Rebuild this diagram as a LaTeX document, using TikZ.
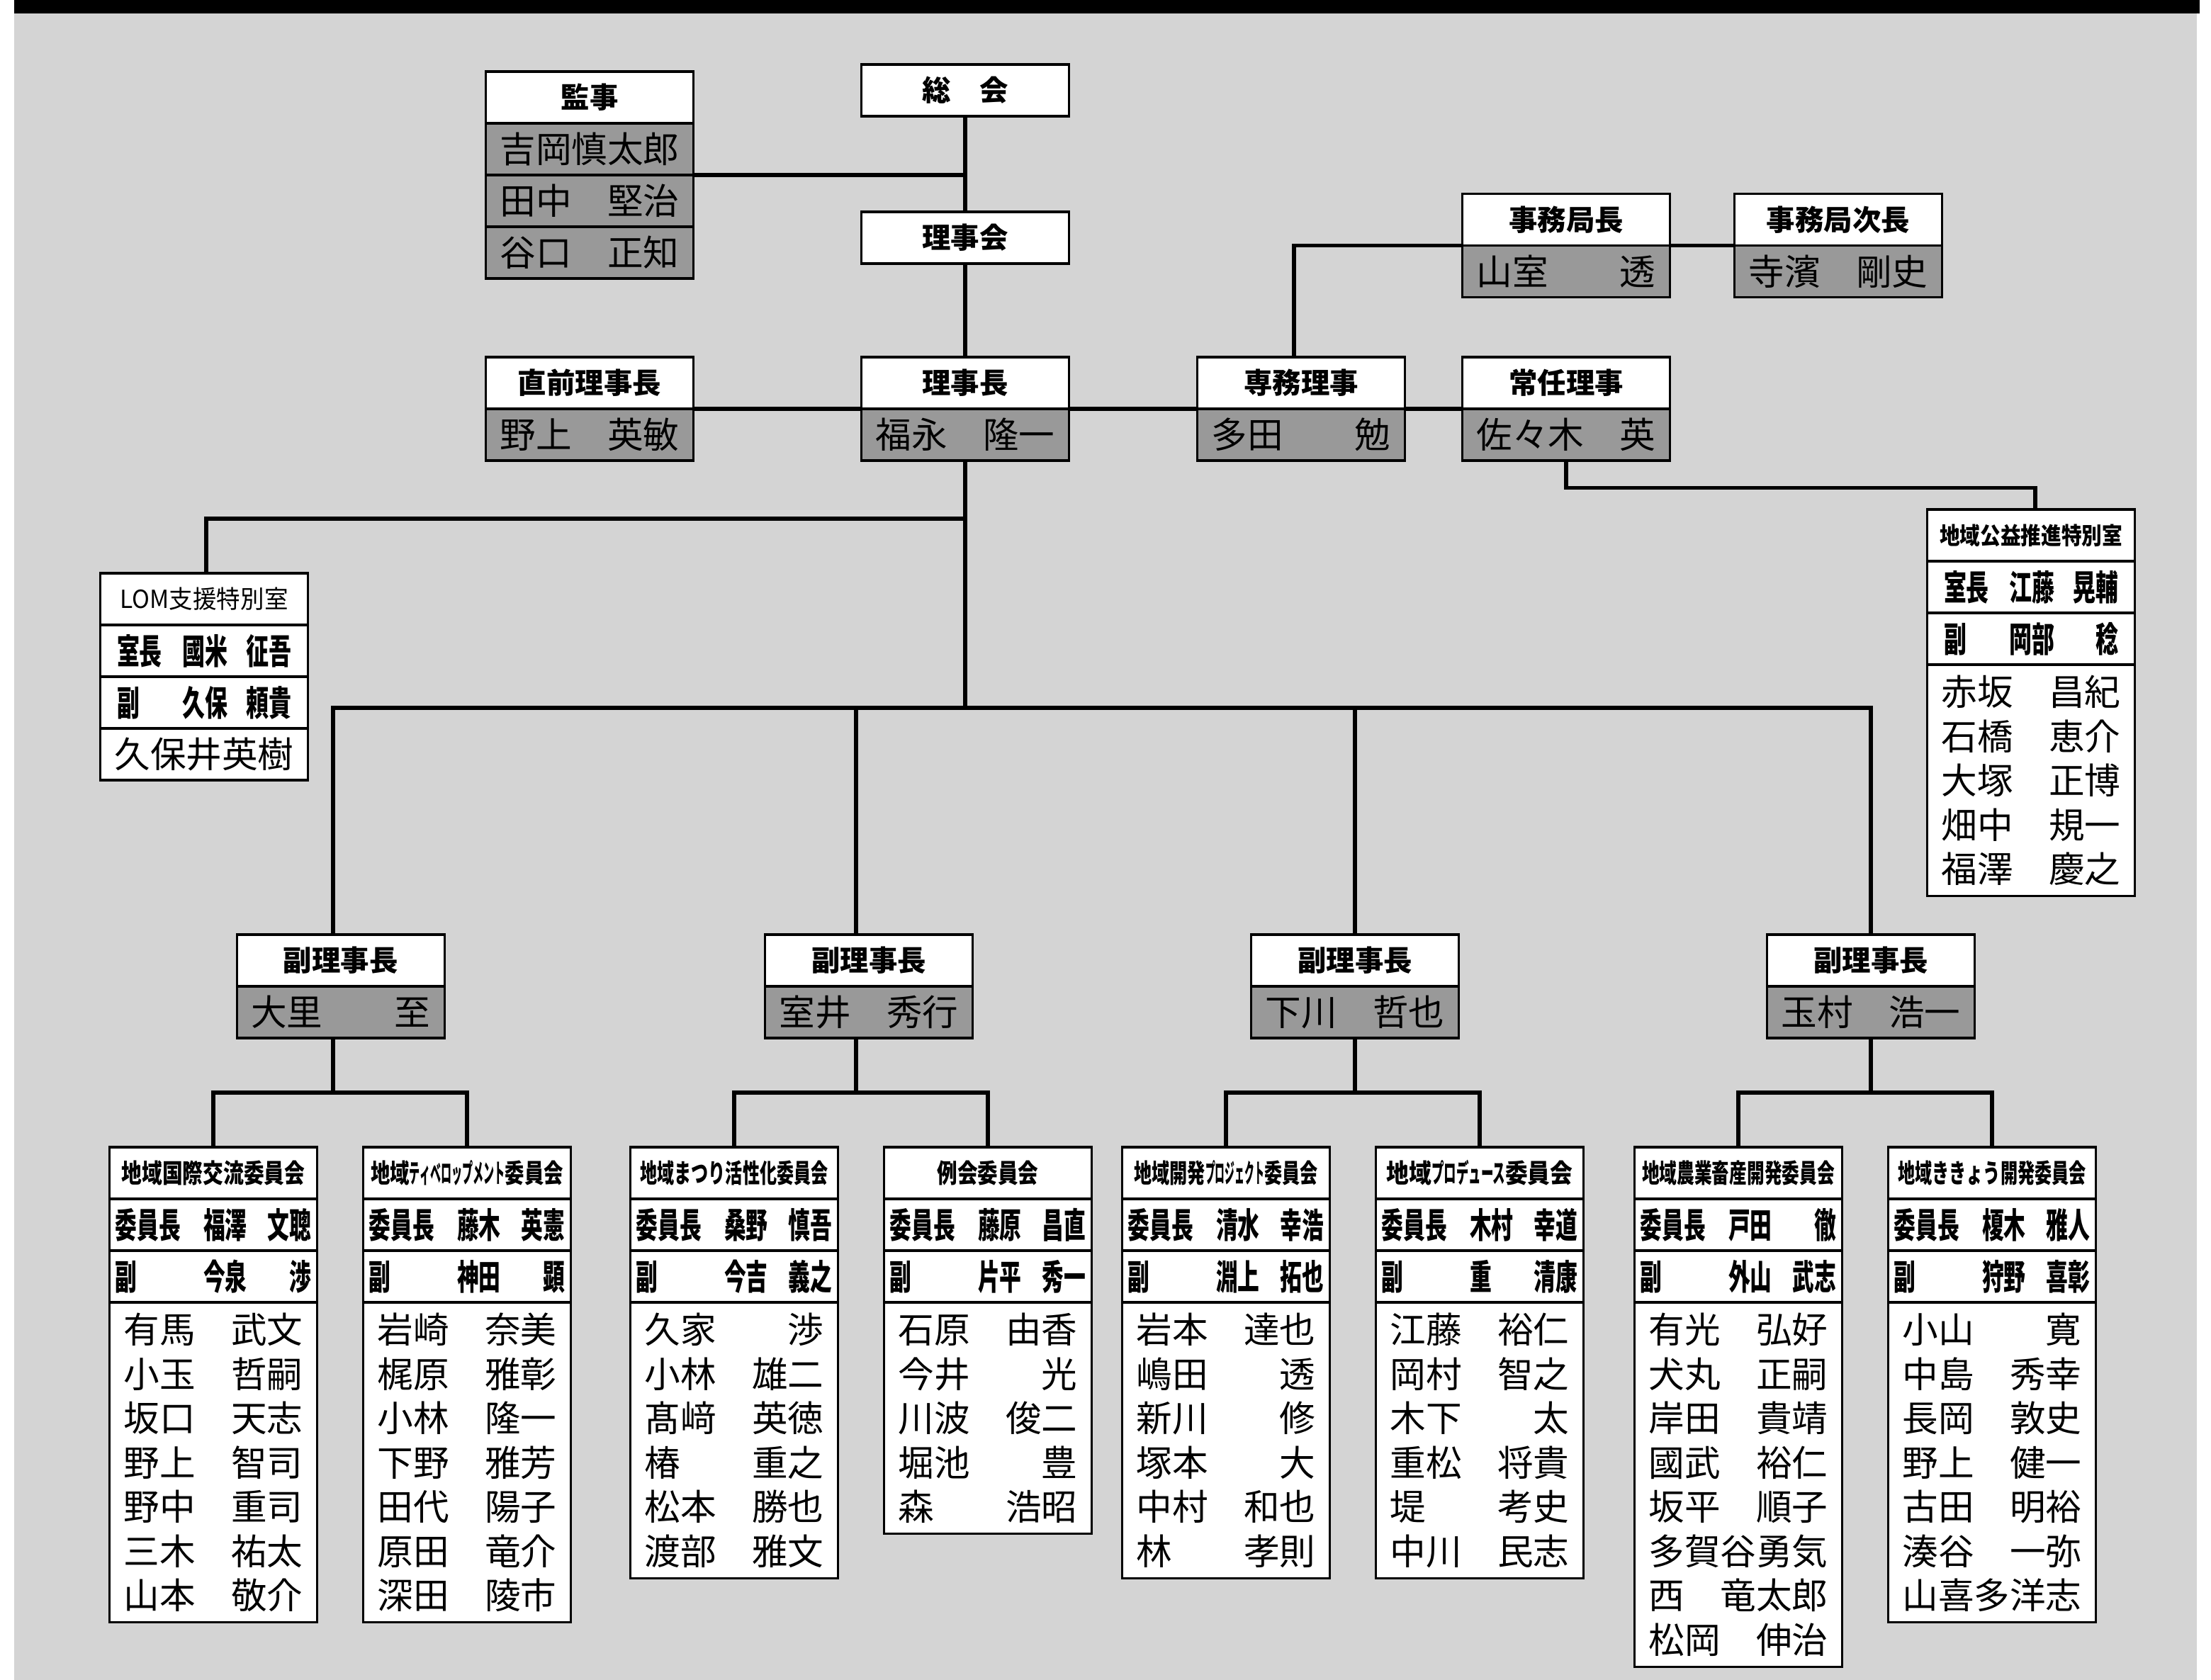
\documentclass[tikz,border=0pt]{standalone}
\usepackage{fontspec}
\usepackage{graphicx}
\newfontfamily\jp{Noto Sans CJK JP}
\definecolor{bggray}{gray}{0.83}
\definecolor{namegray}{gray}{0.6}
\newcommand\pname[2]{\hbox to 5em{\vrule height .88em depth .12em width 0pt#1\hfil#2}}
\newcommand\rolec[3]{\resizebox{2.77cm}{\height}{\hbox to 9em{\vrule height .88em depth .12em width 0pt\hbox to 4.05em{#1\hfil}#2\hfil#3}}}
\newcommand\roler[3]{\resizebox{2.46cm}{\height}{\hbox to 7.7em{\vrule height .88em depth .12em width 0pt\hbox to 2.9em{#1\hfil}#2\hfil#3}}}
\newcommand\hfit[2]{\resizebox{#1}{\height}{#2}}
\newcommand\hkana[1]{\scalebox{0.55}[1]{#1}}
\tikzset{
  cell/.style={draw, line width=0.9pt, minimum width=2.93cm, minimum height=0.73cm, inner sep=0pt, outer sep=0pt, anchor=north},
  hdr/.style={cell, fill=white, font=\jp\bfseries\fontsize{11.5pt}{12pt}\selectfont},
  chdr/.style={cell, fill=white, font=\jp\bfseries\fontsize{10.5pt}{12pt}\selectfont},
  namerow/.style={cell, fill=namegray, font=\jp\fontsize{14.4pt}{17.8pt}\selectfont},
  rolerow/.style={cell, fill=white, font=\jp\bfseries\fontsize{14pt}{16pt}\selectfont},
  whiterow/.style={cell, fill=white, font=\jp\fontsize{14.4pt}{17.8pt}\selectfont},
  members/.style={cell, fill=white, inner ysep=0.13cm, align=center, font=\jp\fontsize{14.4pt}{17.79pt}\selectfont},
  link/.style={line width=1.7pt},
}
\begin{document}
\begin{tikzpicture}
\useasboundingbox (0,0) rectangle (31.2,-23.71);
\fill[white] (0,0) rectangle (31.2,-23.71);
\fill[bggray] (0.2,-0.19) rectangle (31.0,-23.71);
\fill[black] (0.2,0) rectangle (31.04,-0.19);

\node[hdr] (kanjiH) at (8.32,-1.01) {監事};
\node[namerow] (kanjiA) at (kanjiH.south) {\pname{吉岡慎太郎}{}};
\node[namerow] (kanjiB) at (kanjiA.south) {\pname{田中}{堅治}};
\node[namerow] (kanjiC) at (kanjiB.south) {\pname{谷口}{正知}};

\node[hdr] (sokaiH) at (13.62,-0.91) {総　会};
\node[hdr] (rijikaiH) at (13.62,-2.99) {理事会};

\node[hdr] (prevH) at (8.32,-5.04) {直前理事長};
\node[namerow] (prevN) at (prevH.south) {\pname{野上}{英敏}};
\node[hdr] (chairH) at (13.62,-5.04) {理事長};
\node[namerow] (chairN) at (chairH.south) {\pname{福永}{隆一}};
\node[hdr] (senmuH) at (18.36,-5.04) {専務理事};
\node[namerow] (senmuN) at (senmuH.south) {\pname{多田}{勉}};
\node[hdr] (joninH) at (22.10,-5.04) {常任理事};
\node[namerow] (joninN) at (joninH.south) {\pname{佐々木}{英}};
\node[hdr] (jimuH) at (22.10,-2.735) {事務局長};
\node[namerow] (jimuN) at (jimuH.south) {\pname{山室}{透}};
\node[hdr] (jimu2H) at (25.94,-2.735) {事務局次長};
\node[namerow] (jimu2N) at (jimu2H.south) {\pname{寺濱}{剛史}};

\node[hdr, font=\jp\bfseries\fontsize{9.5pt}{11pt}\selectfont] (kouekiH) at (28.66,-7.19) {\hfit{2.58cm}{地域公益推進特別室}};
\node[rolerow] (kouekiR) at (kouekiH.south) {\roler{室長}{江藤}{晃輔}};
\node[rolerow] (kouekiV) at (kouekiR.south) {\roler{副}{岡部}{稔}};
\node[members] (kouekiM) at (kouekiV.south) {\pname{赤坂}{昌紀}\\\pname{石橋}{恵介}\\\pname{大塚}{正博}\\\pname{畑中}{規一}\\\pname{福澤}{慶之}};

\node[hdr, font=\jp\fontsize{10pt}{11pt}\selectfont] (lomH) at (2.88,-8.09) {\hfit{2.37cm}{LOM支援特別室}};
\node[rolerow] (lomR) at (lomH.south) {\roler{室長}{國米}{征吾}};
\node[rolerow] (lomV) at (lomR.south) {\roler{副}{久保}{頼貴}};
\node[whiterow] (lomM) at (lomV.south) {\pname{久保井英樹}{}};

\node[hdr] (vp1H) at (4.806,-13.19) {副理事長};
\node[namerow] (vp1N) at (vp1H.south) {\pname{大里}{至}};
\node[hdr] (vp2H) at (12.26,-13.19) {副理事長};
\node[namerow] (vp2N) at (vp2H.south) {\pname{室井}{秀行}};
\node[hdr] (vp3H) at (19.12,-13.19) {副理事長};
\node[namerow] (vp3N) at (vp3H.south) {\pname{下川}{哲也}};
\node[hdr] (vp4H) at (26.40,-13.19) {副理事長};
\node[namerow] (vp4N) at (vp4H.south) {\pname{玉村}{浩一}};

\node[chdr] (c1H) at (3.01,-16.19) {\hfit{2.59cm}{地域国際交流委員会}};
\node[rolerow] (c1R) at (c1H.south) {\rolec{委員長}{福澤}{文聰}};
\node[rolerow] (c1V) at (c1R.south) {\rolec{副}{今泉}{渉}};
\node[members] (c1M) at (c1V.south) {\pname{有馬}{武文}\\\pname{小玉}{哲嗣}\\\pname{坂口}{天志}\\\pname{野上}{智司}\\\pname{野中}{重司}\\\pname{三木}{祐太}\\\pname{山本}{敬介}};

\node[chdr] (c2H) at (6.59,-16.19) {\hfit{2.72cm}{地域\hkana{ティベロップメント}委員会}};
\node[rolerow] (c2R) at (c2H.south) {\rolec{委員長}{藤木}{英憲}};
\node[rolerow] (c2V) at (c2R.south) {\rolec{副}{神田}{顕}};
\node[members] (c2M) at (c2V.south) {\pname{岩崎}{奈美}\\\pname{梶原}{雅彰}\\\pname{小林}{隆一}\\\pname{下野}{雅芳}\\\pname{田代}{陽子}\\\pname{原田}{竜介}\\\pname{深田}{陵市}};

\node[chdr] (c3H) at (10.36,-16.19) {\hfit{2.65cm}{地域まつり活性化委員会}};
\node[rolerow] (c3R) at (c3H.south) {\rolec{委員長}{桑野}{慎吾}};
\node[rolerow] (c3V) at (c3R.south) {\rolec{副}{今吉}{義之}};
\node[members] (c3M) at (c3V.south) {\pname{久家}{渉}\\\pname{小林}{雄二}\\\pname{髙﨑}{英徳}\\\pname{椿}{重之}\\\pname{松本}{勝也}\\\pname{渡部}{雅文}};

\node[chdr] (c4H) at (13.94,-16.19) {\hfit{1.43cm}{例会委員会}};
\node[rolerow] (c4R) at (c4H.south) {\rolec{委員長}{藤原}{昌直}};
\node[rolerow] (c4V) at (c4R.south) {\rolec{副}{片平}{秀一}};
\node[members] (c4M) at (c4V.south) {\pname{石原}{由香}\\\pname{今井}{光}\\\pname{川波}{俊二}\\\pname{堀池}{豊}\\\pname{森}{浩昭}};

\node[chdr] (c5H) at (17.30,-16.19) {\hfit{2.59cm}{地域開発\hkana{プロジェクト}委員会}};
\node[rolerow] (c5R) at (c5H.south) {\rolec{委員長}{清水}{幸浩}};
\node[rolerow] (c5V) at (c5R.south) {\rolec{副}{淵上}{拓也}};
\node[members] (c5M) at (c5V.south) {\pname{岩本}{達也}\\\pname{嶋田}{透}\\\pname{新川}{修}\\\pname{塚本}{大}\\\pname{中村}{和也}\\\pname{林}{孝則}};

\node[chdr] (c6H) at (20.88,-16.19) {\hfit{2.63cm}{地域\hkana{プロデュース}委員会}};
\node[rolerow] (c6R) at (c6H.south) {\rolec{委員長}{木村}{幸道}};
\node[rolerow] (c6V) at (c6R.south) {\rolec{副}{重}{清康}};
\node[members] (c6M) at (c6V.south) {\pname{江藤}{裕仁}\\\pname{岡村}{智之}\\\pname{木下}{太}\\\pname{重松}{将貴}\\\pname{堤}{考史}\\\pname{中川}{民志}};

\node[chdr] (c7H) at (24.53,-16.19) {\hfit{2.72cm}{地域農業畜産開発委員会}};
\node[rolerow] (c7R) at (c7H.south) {\rolec{委員長}{戸田}{徹}};
\node[rolerow] (c7V) at (c7R.south) {\rolec{副}{外山}{武志}};
\node[members] (c7M) at (c7V.south) {\pname{有光}{弘好}\\\pname{犬丸}{正嗣}\\\pname{岸田}{貴靖}\\\pname{國武}{裕仁}\\\pname{坂平}{順子}\\\pname{多賀谷勇気}{}\\\pname{西}{竜太郎}\\\pname{松岡}{伸治}};

\node[chdr] (c8H) at (28.11,-16.19) {\hfit{2.66cm}{地域ききょう開発委員会}};
\node[rolerow] (c8R) at (c8H.south) {\rolec{委員長}{榎木}{雅人}};
\node[rolerow] (c8V) at (c8R.south) {\rolec{副}{狩野}{喜彰}};
\node[members] (c8M) at (c8V.south) {\pname{小山}{寛}\\\pname{中島}{秀幸}\\\pname{長岡}{敦史}\\\pname{野上}{健一}\\\pname{古田}{明裕}\\\pname{湊谷}{一弥}\\\pname{山喜多洋志}{}};

\coordinate (kourow) at (0,-6.885);
\coordinate (lomrow) at (0,-7.32);
\coordinate (busrow) at (0,-9.99);
\coordinate (vprow) at (0,-15.42);

\draw[link] (sokaiH.south) -- (rijikaiH.north);
\draw[link] (rijikaiH.south) -- (chairH.north);
\draw[link] (kanjiA.south east) -- (kanjiA.south east -| sokaiH.south);
\draw[link] (prevH.south east) -- (chairH.south west);
\draw[link] (chairH.south east) -- (senmuH.south west);
\draw[link] (senmuH.south east) -- (joninH.south west);
\draw[link] ([xshift=-0.1cm]senmuH.north) |- (jimuH.south west);
\draw[link] (jimuH.south east) -- (jimu2H.south west);
\draw[link] (joninN.south) -- (joninN.south |- kourow) -| ([xshift=0.06cm]kouekiH.north);
\draw[link] (chairN.south) -- (chairN.south |- busrow);
\draw[link] (chairN.south |- lomrow) -| ([xshift=0.03cm]lomH.north);
\draw[link] ([xshift=-0.11cm]vp1H.north) |- (chairN.south |- busrow) -| (vp4H.north);
\draw[link] ([xshift=-0.18cm]vp2H.north) -- ([xshift=-0.18cm]vp2H.north |- busrow);
\draw[link] (vp3H.north) -- (vp3H.north |- busrow);

\draw[link] ([xshift=-0.11cm]vp1N.south) -- ([xshift=-0.11cm]vp1N.south |- vprow);
\draw[link] (c1H.north) |- (vp1N.south |- vprow) -| (c2H.north);
\draw[link] ([xshift=-0.18cm]vp2N.south) -- ([xshift=-0.18cm]vp2N.south |- vprow);
\draw[link] (c3H.north) |- (vp2N.south |- vprow) -| (c4H.north);
\draw[link] (vp3N.south) -- (vp3N.south |- vprow);
\draw[link] (c5H.north) |- (vp3N.south |- vprow) -| (c6H.north);
\draw[link] (vp4N.south) -- (vp4N.south |- vprow);
\draw[link] (c7H.north) |- (vp4N.south |- vprow) -| (c8H.north);
\end{tikzpicture}
\end{document}
